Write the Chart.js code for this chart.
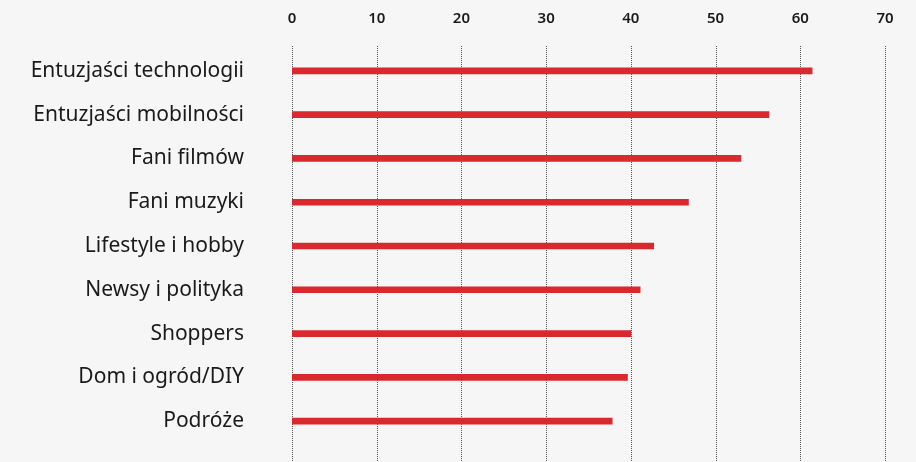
<!DOCTYPE html>
<html>
<head>
<meta charset="utf-8">
<script src="https://cdn.jsdelivr.net/npm/chart.js@4/dist/chart.umd.min.js"></script>
<style>
  html, body { margin: 0; padding: 0; background: #f6f6f6; }
  #wrap { width: 916px; height: 462px; }
</style>
</head>
<body>
<div id="wrap"><canvas id="chart" width="916" height="462"></canvas></div>
<script>
// segment names and share values
const categories = [
  'Entuzjaści technologii',
  'Entuzjaści mobilności',
  'Fani filmów',
  'Fani muzyki',
  'Lifestyle i hobby',
  'Newsy i polityka',
  'Shoppers',
  'Dom i ogród/DIY',
  'Podróże'
];
const values = [61.4, 56.3, 53.0, 46.8, 42.7, 41.1, 40.0, 39.6, 37.8];
const xTicks = [0, 10, 20, 30, 40, 50, 60, 70];

// dotted vertical grid lines, running from just above the plot to the bottom edge
const dottedGrid = {
  id: 'dottedGrid',
  beforeDatasetsDraw(chart) {
    const { ctx, scales: { x }, chartArea } = chart;
    ctx.save();
    ctx.strokeStyle = '#555';
    ctx.lineWidth = 1;
    ctx.setLineDash([1, 1]);
    xTicks.forEach(t => {
      const px = Math.round(x.getPixelForValue(t)) + 0.5;
      ctx.beginPath();
      ctx.moveTo(px, chartArea.top - 3);
      ctx.lineTo(px, chart.height);
      ctx.stroke();
    });
    ctx.restore();
  }
};

const ctx = document.getElementById('chart').getContext('2d');
new Chart(ctx, {
  type: 'bar',
  data: {
    labels: categories,
    datasets: [{
      data: values,
      backgroundColor: '#d9292f',
      borderWidth: 0,
      barThickness: 6
    }]
  },
  plugins: [dottedGrid],
  options: {
    indexAxis: 'y',
    responsive: false,
    animation: false,
    plugins: {
      legend: { display: false },
      tooltip: { enabled: false }
    },
    layout: {
      padding: { left: 0, right: 31, top: 0, bottom: 19 }
    },
    scales: {
      x: {
        position: 'top',
        min: 0,
        max: 70,
        afterBuildTicks: (scale) => {
          scale.ticks = xTicks.map(v => ({ value: v }));
        },
        afterFit: (scale) => { scale.height = 49; },
        grid: { display: false },
        border: { display: false },
        ticks: {
          color: '#1a1a1a',
          padding: 13,
          font: { family: 'Noto Sans', size: 15, weight: '600' }
        }
      },
      y: {
        afterFit: (scale) => {
          scale.width = 292;
          // keep the long tick padding from shrinking the plot vertically
          scale.paddingTop = 0;
          scale.paddingBottom = 0;
        },
        grid: { display: false },
        border: { display: false },
        ticks: {
          color: '#1a1a1a',
          padding: 40,
          font: { family: 'Noto Sans', size: 21 }
        }
      }
    }
  }
});
</script>
</body>
</html>
